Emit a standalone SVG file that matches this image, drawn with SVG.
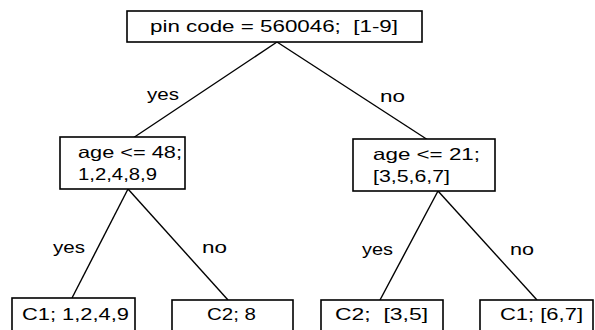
<svg xmlns="http://www.w3.org/2000/svg" width="595" height="330" viewBox="0 0 595 330">
  <style>
    .box { fill: #ffffff; stroke: #000000; stroke-width: 1.6; }
    .edge { stroke: #000000; stroke-width: 1.4; fill: none; }
    text { font-family: "Liberation Sans", Arial, sans-serif; font-size: 16.5px; fill: #000000; }
  </style>
  <rect width="595" height="330" fill="#ffffff"/>

  <!-- branches -->
  <g id="connectors">
    <line class="edge" x1="277" y1="42" x2="133" y2="138"/>
    <line class="edge" x1="277" y1="42" x2="428" y2="140"/>
    <line class="edge" x1="128" y1="189" x2="72" y2="298"/>
    <line class="edge" x1="128" y1="189" x2="228" y2="300"/>
    <line class="edge" x1="438" y1="191" x2="380" y2="300"/>
    <line class="edge" x1="438" y1="191" x2="537" y2="300"/>
    <text x="147" y="100" textLength="32" lengthAdjust="spacingAndGlyphs">yes</text>
    <text x="380" y="102" textLength="25" lengthAdjust="spacingAndGlyphs">no</text>
    <text x="53" y="253" textLength="32" lengthAdjust="spacingAndGlyphs">yes</text>
    <text x="202" y="253" textLength="25" lengthAdjust="spacingAndGlyphs">no</text>
    <text x="362" y="255" textLength="31" lengthAdjust="spacingAndGlyphs">yes</text>
    <text x="510" y="255" textLength="24" lengthAdjust="spacingAndGlyphs">no</text>
  </g>

  <!-- root test -->
  <g id="root">
    <rect class="box" x="127" y="11" width="295" height="31"/>
    <text x="150" y="32" xml:space="preserve" textLength="248" lengthAdjust="spacingAndGlyphs">pin code = 560046;  [1-9]</text>
  </g>

  <!-- second-level tests -->
  <g id="age48">
    <rect class="box" x="60" y="137" width="125" height="52"/>
    <text x="78" y="158" textLength="104" lengthAdjust="spacingAndGlyphs">age &lt;= 48;</text>
    <text x="78" y="180" textLength="79" lengthAdjust="spacingAndGlyphs">1,2,4,8,9</text>
  </g>
  <g id="age21">
    <rect class="box" x="353" y="139" width="142" height="52"/>
    <text x="373" y="160" textLength="107" lengthAdjust="spacingAndGlyphs">age &lt;= 21;</text>
    <text x="373" y="182" textLength="77" lengthAdjust="spacingAndGlyphs">[3,5,6,7]</text>
  </g>

  <!-- leaves -->
  <g id="leaf1">
    <rect class="box" x="12" y="298" width="123" height="50"/>
    <text x="22" y="320" textLength="107" lengthAdjust="spacingAndGlyphs">C1; 1,2,4,9</text>
  </g>
  <g id="leaf2">
    <rect class="box" x="172" y="300" width="121" height="50"/>
    <text x="207" y="320" textLength="49" lengthAdjust="spacingAndGlyphs">C2; 8</text>
  </g>
  <g id="leaf3">
    <rect class="box" x="321" y="300" width="122" height="50"/>
    <text x="335" y="320" xml:space="preserve" textLength="93" lengthAdjust="spacingAndGlyphs">C2;  [3,5]</text>
  </g>
  <g id="leaf4">
    <rect class="box" x="480" y="300" width="113" height="50"/>
    <text x="500" y="320" textLength="83" lengthAdjust="spacingAndGlyphs">C1; [6,7]</text>
  </g>
</svg>
